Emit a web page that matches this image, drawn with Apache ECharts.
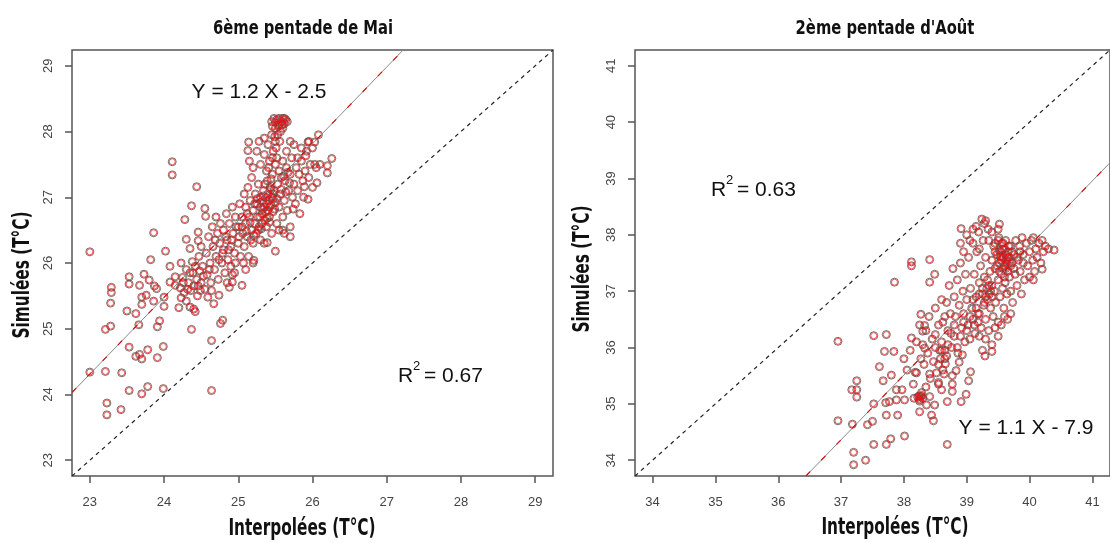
<!DOCTYPE html>
<html>
<head>
<meta charset="utf-8">
<script src="https://cdn.jsdelivr.net/npm/echarts@6/dist/echarts.min.js"></script>
<style>
  html, body { margin: 0; background: #fff; }
  #chart { width: 1110px; height: 543px; }
</style>
</head>
<body>
<div id="chart"></div>
<script>
const titles = ['6ème pentade de Mai', "2ème pentade d'Août"]
const ticksMai = [23, 24, 25, 26, 27, 28, 29]
const ticksAout = [34, 35, 36, 37, 38, 39, 40, 41]
const rangeMai = [22.76, 29.24]
const rangeAout = [33.72, 41.28]

// regression lines as drawn (end points on the frame)
const fitMai = [[22.76, 24.03], [27.23, 29.25]]
const fitAout = [[36.44, 33.72], [41.28, 39.28]]
const eqMai = 'Y = 1.2 X - 2.5'
const eqAout = 'Y = 1.1 X - 7.9'
const r2Mai = '0.67'
const r2Aout = '0.63'

// [interpolated, simulated]
const pointsMai = [
  [23.0,24.34],[23.0,26.17],[23.23,23.87],[23.23,23.69],[23.21,24.35],[23.21,24.99],[23.28,25.04],[23.28,25.39],
  [23.29,25.63],[23.29,25.55],[23.42,23.77],[23.43,24.33],[23.53,24.06],[23.53,24.72],[23.5,25.27],[23.53,25.79],
  [23.53,25.68],[23.62,25.23],[23.66,25.06],[23.62,24.58],[23.67,24.61],[23.7,24.54],[23.7,24.01],[23.78,24.12],
  [23.78,24.68],[23.91,24.56],[23.99,24.73],[23.99,24.09],[23.91,25.03],[23.94,25.12],[23.7,25.37],[23.7,25.48],
  [23.76,25.51],[23.67,25.66],[23.73,25.83],[23.8,25.74],[23.82,26.05],[23.86,26.46],[23.87,25.65],[23.9,25.61],
  [23.86,25.42],[24.0,25.48],[24.0,25.34],[24.02,26.18],[24.08,25.95],[24.11,27.54],[24.11,27.34],[24.08,25.71],
  [24.44,27.16],[24.37,26.87],[24.28,26.66],[24.3,26.36],[24.35,26.22],[24.37,24.99],[24.42,25.26],[24.35,25.33],
  [24.46,26.47],[24.46,26.34],[24.55,26.83],[24.56,26.71],[24.64,24.82],[24.64,24.06],[24.67,25.38],[24.76,25.08],
  [24.79,25.13],[24.74,25.51],[24.59,25.48],[24.64,25.58],[24.49,25.58],[24.23,25.47],[24.2,25.32],[24.23,26.0],
  [24.15,25.79],[24.15,25.66],[24.92,25.82],[24.92,25.71],[24.88,25.63],[24.96,26.0],[25.05,25.66],[25.07,26.0],
  [25.21,26.04],[25.39,26.31],[25.5,26.18],[25.94,26.97],[26.06,27.22],[26.2,27.37],[26.26,27.59],[26.2,27.48],
  [26.08,27.95],[26.03,27.84],[25.94,27.84],[25.14,27.84],[25.13,27.71],[25.74,26.82],[25.89,27.16],[25.91,27.63],
  [26.03,27.5],
  [24.22,25.62],[24.25,25.78],[24.27,25.55],[24.3,25.9],[24.3,25.42],[24.33,25.7],[24.35,25.85],[24.36,25.58],
  [24.38,26.02],[24.4,25.65],[24.4,25.3],[24.42,25.95],[24.44,25.75],[24.45,25.5],[24.47,26.1],[24.48,25.88],
  [24.5,25.7],[24.5,26.25],[24.52,25.95],[24.55,25.6],
  [24.57,26.15],[24.58,25.82],[24.6,26.4],[24.62,26.0],[24.63,25.7],[24.65,26.55],[24.66,26.25],[24.68,25.9],
  [24.7,26.7],[24.7,26.1],[24.72,26.45],[24.73,25.75],[24.75,26.3],[24.76,26.6],[24.78,26.0],[24.8,26.5],
  [24.8,26.2],[24.82,25.85],[24.84,26.75],[24.85,26.35],[24.86,26.05],[24.88,26.6],[24.9,26.25],[24.9,25.95],
  [24.92,26.85],[24.93,26.45],[24.95,26.15],[24.96,26.7],
  [25.0,26.3],[25.0,26.55],[25.02,26.9],[25.03,26.1],[25.05,26.7],[25.06,26.45],[25.08,27.05],[25.08,26.25],
  [25.1,26.6],[25.1,26.85],[25.12,26.4],[25.13,27.15],[25.14,26.1],[25.15,26.7],[25.16,26.95],[25.18,26.5],
  [25.18,27.3],[25.2,26.8],[25.2,26.3],[25.22,26.6],[25.23,27.05],[25.24,26.45],[25.25,26.9],[25.26,26.7],
  [25.27,27.2],[25.28,26.55],[25.3,26.85],[25.3,27.0],[25.3,26.35],
  [25.32,26.75],[25.33,26.95],[25.34,27.1],[25.35,26.85],[25.36,26.65],[25.37,27.0],[25.38,26.9],[25.39,27.25],
  [25.4,26.8],[25.4,27.05],[25.41,26.95],[25.42,26.7],[25.43,27.15],[25.44,26.88],[25.45,27.0],[25.46,27.35],
  [25.47,26.78],[25.48,27.1],[25.5,26.92],[25.5,27.5],[25.52,26.6],[25.53,27.2],[25.55,26.85],[25.55,27.4],
  [25.57,27.05],[25.58,27.3],[25.6,26.7],[25.6,27.55],[25.62,26.95],[25.63,27.25],[25.65,27.45],[25.66,26.8],
  [25.68,27.1],[25.7,27.35],[25.7,26.55],[25.72,27.6],[25.73,27.0],[25.75,27.2],[25.77,26.9],[25.78,27.45],
  [25.8,27.1],[25.82,27.35],[25.83,26.75],[25.85,27.55],[25.87,27.25],[25.88,27.0],[25.9,27.4],[25.92,27.7],
  [25.95,27.3],[25.97,27.5],[26.0,27.75],[26.0,27.15],[26.05,27.45],[26.1,27.5],
  [25.3,27.5],[25.35,27.65],[25.38,27.4],[25.4,27.8],[25.42,27.55],[25.45,27.95],[25.47,27.7],[25.5,28.05],
  [25.5,27.85],[25.52,27.6],[25.45,28.15],[25.48,28.2],[25.52,28.18],[25.55,28.1],[25.55,28.2],[25.58,28.15],
  [25.6,28.05],[25.6,28.2],[25.62,28.12],[25.64,28.18],[25.57,28.0],[25.53,27.95],[25.35,27.9],[25.25,27.7],
  [25.2,27.45],[25.15,27.55],[25.28,27.85],
  [25.65,27.7],[25.75,27.8],[25.7,27.85],[25.85,27.75],[25.95,27.85],[25.8,27.6],
  [25.2,26.0],[25.35,26.3],[25.55,26.5],[25.45,26.45],[25.6,26.5],[25.1,25.9],[24.95,25.85],[24.85,25.7],
  [25.7,26.4],[25.62,26.45],[25.38,26.55],[25.42,26.62],[25.36,27.2],[25.44,27.28],[25.33,26.82],[25.47,26.98],
  [25.05,26.55],[25.12,26.75],[25.17,26.35],[25.22,26.9],[25.27,26.5],[25.32,26.6],[25.37,26.78],[25.42,26.85],
  [25.47,27.05],[25.52,26.98],[25.29,26.7],[25.34,27.02],[25.39,26.68],[25.44,27.12],[25.49,26.82],[25.11,26.48],
  [25.16,26.62],[25.21,26.42],[25.26,26.98],[25.31,26.52],[25.01,26.4],[24.97,26.55],[24.91,26.35],[24.87,26.2],
  [24.83,26.4],[24.79,26.15],[24.74,26.05],[24.69,26.35],[24.61,25.9],[24.53,25.8],[24.46,25.65],[24.39,25.85],
  [24.32,25.6],[24.26,25.7],[25.58,27.12],[25.61,27.32],[25.64,27.08],[25.67,27.38],[25.69,27.22],[25.41,27.45],
  [25.46,27.6],[25.51,27.75],[25.56,27.85],[25.49,27.92],[25.54,28.08],[25.59,28.1],[25.5,28.14],[25.46,28.08],
  [25.62,28.2],[25.66,28.15]
]

const pointsAout = [
  [36.95,34.7],[36.95,36.11],[37.2,33.92],[37.2,34.14],[37.18,34.64],[37.17,35.25],[37.25,35.41],[37.25,35.25],
  [37.25,35.12],[37.39,34.0],[37.42,34.63],[37.5,34.69],[37.52,34.28],[37.52,35.0],[37.52,36.21],[37.72,36.23],
  [37.61,35.66],[37.67,35.41],[37.69,35.93],[37.84,35.93],[37.72,34.28],[37.79,34.38],[37.72,34.8],[37.9,34.8],
  [37.71,35.02],[37.77,35.04],[37.88,35.07],[37.8,35.51],[37.88,35.25],[37.97,35.25],[38.01,35.07],[38.01,34.43],
  [38.0,35.8],[38.12,36.17],[38.12,37.45],[38.12,37.52],[37.85,37.16],[38.27,36.59],[38.41,37.56],[38.49,37.3],
  [38.41,37.16],[38.18,35.56],[38.25,34.86],[38.44,34.8],[38.47,34.7],[38.69,34.28],[38.69,35.04],[38.91,35.04],
  [38.99,35.17],[39.03,35.41],[39.06,35.57],[39.29,35.85],[39.4,35.93],[38.91,38.11],[39.24,38.28],[39.52,38.19],
  [40.2,37.39],[40.06,37.2],[40.39,37.73],[38.27,35.8],[38.33,35.99],[38.5,36.23],[38.5,36.0],[38.3,36.29],
  [38.33,36.39],[38.77,35.22],[38.77,35.35],[38.64,35.53],[38.77,35.5],[38.83,35.59],[38.58,35.8],[38.66,35.71],
  [38.41,35.53],[38.55,35.38],[38.41,35.13],[38.3,35.1],[38.36,34.98],[38.49,34.98],[38.6,35.25],[38.16,35.1],
  [38.27,35.13],[38.88,35.74],[38.93,35.87],
  [38.6,36.1],[38.62,36.45],[38.65,35.95],[38.68,36.8],[38.7,36.3],[38.72,37.1],[38.74,36.6],[38.76,36.0],
  [38.78,37.4],[38.8,36.9],[38.8,36.2],[38.82,36.55],[38.85,37.2],[38.86,35.9],[38.88,36.75],[38.9,37.5],
  [38.92,36.35],[38.94,37.0],[38.95,36.6],[38.97,36.1],[38.98,37.3],[39.0,36.85],
  [39.02,36.4],[39.03,37.6],[39.05,36.15],[39.06,37.05],[39.08,36.7],[39.1,37.85],[39.1,36.5],[39.12,37.3],
  [39.13,36.25],[39.15,36.9],[39.16,37.7],[39.18,36.45],[39.19,38.05],[39.2,37.15],[39.2,36.6],[39.22,37.45],
  [39.23,36.35],[39.25,36.95],[39.26,37.9],[39.27,36.75],[39.28,37.25],[39.3,36.5],[39.3,37.6],[39.32,37.05],
  [39.33,36.85],[39.34,38.1],
  [39.36,36.95],[39.37,37.35],[39.38,36.7],[39.4,37.55],[39.4,37.1],[39.42,36.55],[39.43,37.8],[39.44,37.0],
  [39.45,37.4],[39.46,36.8],[39.48,37.65],[39.5,37.2],[39.5,36.45],[39.51,37.95],[39.52,37.5],[39.53,36.9],
  [39.54,37.7],[39.55,37.3],[39.56,37.85],[39.57,37.05],[39.58,37.6],[39.59,36.7],[39.6,37.45],[39.6,37.75],
  [39.61,37.15],[39.62,37.9],[39.63,37.55],[39.64,36.95],[39.65,37.35],[39.66,37.7],[39.67,37.6],[39.68,37.25],
  [39.7,37.8],[39.7,37.0],[39.72,37.5],[39.73,36.8],[39.75,37.65],[39.77,37.3],[39.78,37.9],[39.8,37.1],
  [39.82,37.55],[39.84,37.8],[39.85,37.35],[39.87,36.95],[39.9,37.65],[39.92,37.2],[39.95,37.85],[39.97,37.45],
  [40.0,37.7],[40.0,37.25],[40.03,37.9],[40.05,37.55],[40.08,37.35],[40.1,37.75],[40.12,37.6],[40.15,37.85],
  [40.18,37.5],[40.2,37.9],[40.22,37.7],[40.25,37.8],[40.3,37.75],[39.88,37.95],[40.06,37.95],
  [39.05,37.9],[39.1,38.1],[39.15,38.15],[39.2,37.75],[39.28,38.2],[39.35,37.9],[39.4,38.05],[39.45,37.85],
  [39.5,38.1],[39.3,38.25],[38.95,37.7],[38.9,37.85],[39.0,38.0],
  [38.3,36.05],[38.32,35.7],[38.35,36.3],[38.38,35.9],[38.4,36.55],[38.42,35.45],[38.45,36.15],[38.47,35.75],
  [38.5,36.7],[38.52,35.55],[38.55,36.4],[38.57,35.95],[38.6,36.85],[38.62,35.6],[38.65,36.55],[38.68,35.85],
  [38.25,36.4],[38.2,35.55],[38.35,35.3],[38.55,35.35],
  [38.05,35.6],[38.1,35.95],[38.15,35.35],[38.2,36.1],[38.28,35.2],[38.25,35.05],[38.22,35.12],
  [39.2,36.2],[39.3,36.15],[39.35,36.3],[39.4,36.05],[39.45,36.35],[39.5,36.2],[39.55,36.4],[39.25,35.95],
  [39.6,36.55],[39.65,36.5],[39.7,36.6],[39.55,37.6],[39.58,37.4],[39.62,37.65],[39.52,37.72],[39.64,37.48],
  [39.52,37.35],[39.55,37.55],[39.57,37.75],[39.6,37.25],[39.62,37.4],[39.65,37.6],[39.67,37.8],[39.7,37.45],
  [39.72,37.7],[39.58,37.85],[39.48,37.45],[39.45,37.7],[39.5,37.9],[39.53,37.62],[39.68,37.52],[39.35,37.1],
  [39.3,36.9],[39.38,37.0],[39.25,37.05],[39.28,36.8],[39.33,37.2],[39.4,36.9],[39.2,36.95],[39.15,36.7],
  [39.1,36.85],[39.18,36.6],[39.12,36.4],[39.05,36.55],[39.0,36.3],[38.95,36.45],[38.9,36.2],[38.85,36.0],
  [38.8,36.4],[38.75,36.25],[38.7,36.05],[38.65,35.8],[38.6,35.95],[38.55,35.7],[39.75,37.4],[39.8,37.6],
  [39.85,37.7],[39.9,37.5],[38.25,35.08],[38.28,35.15],[38.24,35.14]
]

const narrow = '"Liberation Sans Narrow", "DejaVu Sans Condensed", sans-serif'
const plain = '"Liberation Sans", Arial, sans-serif'
const grids = [
  { left: 72, top: 50, width: 481, height: 426 },
  { left: 635, top: 50, width: 482, height: 426 }
]

const chart = echarts.init(document.getElementById('chart'), null, { renderer: 'canvas' })

const axisCommon = (idx, range, ticks) => ({
  type: 'value', gridIndex: idx, min: range[0], max: range[1],
  axisLine: { show: false },
  splitLine: { show: false },
  axisTick: { show: true, inside: false, length: 7, customValues: ticks, lineStyle: { color: '#555', width: 1.5 } },
  axisLabel: { customValues: ticks, fontSize: 13, color: '#444', fontFamily: plain }
})

const xAxis = [ [rangeMai, ticksMai], [rangeAout, ticksAout] ].map(([r, t], i) => {
  let a = axisCommon(i, r, t)
  a.axisLabel.margin = 20
  return a
})
const yAxis = [ [rangeMai, ticksMai], [rangeAout, ticksAout] ].map(([r, t], i) => {
  let a = axisCommon(i, r, t)
  a.axisLabel.margin = 17
  a.axisLabel.rotate = 90
  return a
})

const scatterPair = (data, i) => ([
  {
    type: 'scatter', xAxisIndex: i, yAxisIndex: i, data,
    symbol: 'circle', symbolSize: 8, silent: true,
    itemStyle: { color: 'rgba(0,0,0,0)', borderColor: '#5e4848', borderWidth: 1 }
  },
  {
    type: 'scatter', xAxisIndex: i, yAxisIndex: i, data,
    symbol: 'circle', symbolSize: 6, silent: true,
    itemStyle: { color: 'rgba(0,0,0,0)', borderColor: 'rgba(240,15,15,0.85)', borderWidth: 1 }
  }
])

const lineSeries = (data, i, style) => ({
  type: 'line', xAxisIndex: i, yAxisIndex: i, data, symbol: 'none', silent: true,
  clip: true, lineStyle: style, z: 5
})

const series = [
  ...scatterPair(pointsMai, 0),
  ...scatterPair(pointsAout, 1),
  lineSeries([[rangeMai[0], rangeMai[0]], [rangeMai[1], rangeMai[1]]], 0, { color: '#222', width: 1.2, type: [4, 4] }),
  lineSeries([[rangeAout[0], rangeAout[0]], [rangeAout[1], rangeAout[1]]], 1, { color: '#222', width: 1.2, type: [4, 4] }),
  lineSeries(fitMai, 0, { color: '#8a8a8a', width: 1 }),
  lineSeries(fitAout, 1, { color: '#8a8a8a', width: 1 }),
  lineSeries(fitMai, 0, { color: '#d01010', width: 1.2, type: [6, 16] }),
  lineSeries(fitAout, 1, { color: '#d01010', width: 1.2, type: [6, 16] })
]

// condensed bold labels (titles, axis names)
const heavyText = (text, x, y, size, sx, rotation) => ({
  type: 'text', x, y, rotation: rotation || 0, scaleX: sx, silent: true,
  style: { text, font: 'bold ' + size + 'px ' + narrow, fill: '#111', align: 'center', verticalAlign: 'middle' }
})
const noteText = (text, x, y, align) => ({
  type: 'text', x, y, silent: true,
  style: { text, font: '21px ' + plain, fill: '#111', align: align || 'center', verticalAlign: 'middle' }
})
const supText = (text, x, y) => ({
  type: 'text', x, y, silent: true,
  style: { text, font: '13px ' + plain, fill: '#111', align: 'left', verticalAlign: 'middle' }
})

chart.setOption({
  animation: false,
  grid: grids.map(g => Object.assign({ show: true, borderColor: '#555', borderWidth: 1.5, backgroundColor: 'transparent' }, g)),
  xAxis,
  yAxis,
  series,
  graphic: [
    heavyText(titles[0], 303, 29, 20, 0.82),
    heavyText(titles[1], 885, 29, 20, 0.82),
    heavyText('Interpolées (T°C)', 302, 529, 23, 0.74),
    heavyText('Interpolées (T°C)', 895, 528, 23, 0.74),
    heavyText('Simulées (T°C)', 23, 275, 23, 0.74, Math.PI / 2),
    heavyText('Simulées (T°C)', 583, 269, 23, 0.74, Math.PI / 2),
    noteText(eqMai, 259, 92),
    noteText(eqAout, 1026, 428),
    noteText('R', 398, 376, 'left'),
    supText('2', 413, 366),
    noteText('= ' + r2Mai, 424, 376, 'left'),
    noteText('R', 711, 190, 'left'),
    supText('2', 726, 180),
    noteText('= ' + r2Aout, 737, 190, 'left')
  ]
})
</script>
</body>
</html>
